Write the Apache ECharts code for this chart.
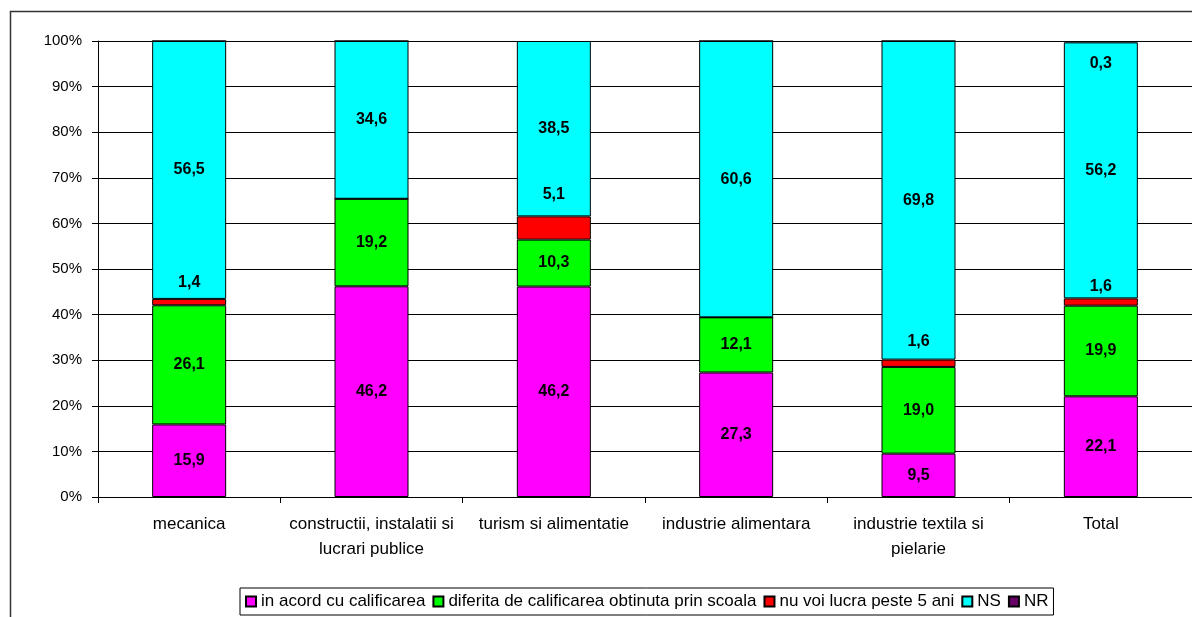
<!DOCTYPE html>
<html>
<head>
<meta charset="utf-8">
<script src="https://cdn.jsdelivr.net/npm/echarts@6/dist/echarts.min.js"></script>
<style>html,body{margin:0;padding:0;background:#fff}#c{width:1192px;height:617px}</style>
</head>
<body>
<div id="c"></div>
<script>
var categories = ['mecanica', 'constructii, instalatii si\nlucrari publice', 'turism si alimentatie', 'industrie alimentara', 'industrie textila si\npielarie', 'Total'];
var seriesNames = ['in acord cu calificarea', 'diferita de calificarea obtinuta prin scoala', 'nu voi lucra peste 5 ani', 'NS', 'NR'];
var inAcord = [15.9, 46.2, 46.2, 27.3, 9.5, 22.1];
var diferita = [26.1, 19.2, 10.3, 12.1, 19.0, 19.9];
var nuVoi = [1.4, 0, 5.1, 0, 1.6, 1.6];
var ns = [56.5, 34.6, 38.5, 60.6, 69.8, 56.2];
var nr = [0, 0, 0, 0, 0, 0.3];
var yTicks = ['0%', '10%', '20%', '30%', '40%', '50%', '60%', '70%', '80%', '90%', '100%'];

var colors = ['#FF00FF', '#00FF00', '#FF0000', '#00FFFF', '#660066'];
var labelShift = [
  [0, 0, 0, 0, 0, 0],
  [0, 0, 0, 0, 0, 0],
  [-19, 0, -33, 0, -22, -15],
  [0, 0, 0, 0, 0, 0],
  [0, 0, 0, 0, 0, 22]
];
var raw = [inAcord, diferita, nuVoi, ns, nr];
var sums = categories.map(function (c, i) { return raw.reduce(function (s, a) { return s + a[i]; }, 0); });
var FONT = 'Liberation Sans, Arial, sans-serif';

var series = raw.map(function (arr, si) {
  return {
    name: seriesNames[si],
    type: 'bar',
    stack: 'all',
    barWidth: 74,
    itemStyle: { color: colors[si], borderColor: '#000', borderWidth: 1 },
    data: arr.map(function (v, i) {
      return {
        value: v / sums[i] * 100,
        label: {
          show: v > 0,
          position: 'inside',
          offset: [0, labelShift[si][i]],
          formatter: v.toFixed(1).replace('.', ','),
          color: '#000',
          fontWeight: 'bold',
          fontSize: 16,
          fontFamily: FONT
        }
      };
    })
  };
});

var chart = echarts.init(document.getElementById('c'), null, { renderer: 'canvas' });
chart.setOption({
  animation: false,
  backgroundColor: '#fff',
  graphic: [{
    type: 'rect', left: 8, top: 9, z: -1,
    shape: { width: 1300, height: 800 },
    style: { fill: 'none', stroke: '#333', lineWidth: 1.5 }
  }],
  grid: { left: 98, top: 41, width: 1096, height: 456 },
  legend: {
    left: 240, top: 588,
    itemWidth: 10, itemHeight: 10, itemGap: 7,
    padding: [5, 5, 5, 5],
    borderColor: '#000', borderWidth: 1,
    icon: 'rect',
    textStyle: { fontSize: 17, color: '#000', fontFamily: FONT, padding: [0, 0, 0, 0] },
    data: seriesNames
  },
  xAxis: {
    type: 'category',
    data: categories,
    axisLine: { lineStyle: { color: '#000', width: 1 } },
    axisTick: { show: true, length: 6, lineStyle: { color: '#000' } },
    axisLabel: { color: '#000', fontSize: 17, fontFamily: FONT, margin: 15, lineHeight: 25, interval: 0 }
  },
  yAxis: {
    type: 'value', min: 0, max: 100, interval: 10,
    axisLine: { show: true, lineStyle: { color: '#000', width: 1 } },
    axisTick: { show: true, length: 6, lineStyle: { color: '#000' } },
    splitLine: { show: true, lineStyle: { color: '#000', width: 1 } },
    axisLabel: {
      color: '#000', fontSize: 15, fontFamily: FONT, margin: 16,
      formatter: function (v) { return yTicks[Math.round(v / 10)]; }
    }
  },
  series: series
});
</script>
</body>
</html>
